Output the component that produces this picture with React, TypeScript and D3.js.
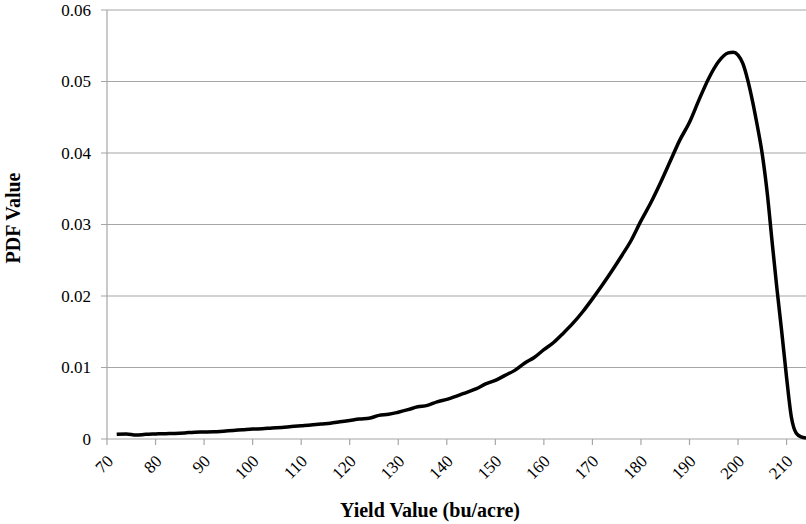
import React from "react";
import * as d3 from "d3";

const yieldValues = [
  72, 74, 76, 78, 80, 82, 84, 86, 88, 90, 92, 94, 96, 98, 100, 102, 104, 106, 108, 110,
  112, 114, 116, 118, 120, 122, 124, 126, 128, 130, 132, 134, 136, 138, 140, 142, 144, 146,
  148, 150, 152, 154, 156, 158, 160, 162, 164, 166, 168, 170, 172, 174, 176, 178, 180, 182,
  184, 186, 188, 190, 192, 194, 196, 198, 199, 200, 201, 202, 203, 204, 205, 206, 207, 208,
  209, 210, 211, 212, 213, 214,
];
const pdfValues = [
  0.00065, 0.0007, 0.00055, 0.00065, 0.0007, 0.00075, 0.00078, 0.00085, 0.00095, 0.00097,
  0.001, 0.0011, 0.0012, 0.0013, 0.0014, 0.00142, 0.00155, 0.0016, 0.00175, 0.00185,
  0.00195, 0.0021, 0.0022, 0.0024, 0.0026, 0.0028, 0.0029, 0.0033, 0.00345, 0.00375,
  0.0041, 0.0045, 0.0047, 0.0052, 0.00555, 0.006, 0.0065, 0.007, 0.0077, 0.0082,
  0.0089, 0.0096, 0.0106, 0.0114, 0.0125, 0.0135, 0.0148, 0.0162, 0.0178, 0.0196,
  0.0215, 0.0235, 0.0256, 0.0278, 0.0305, 0.033, 0.0358, 0.0388, 0.0418, 0.0443,
  0.0475, 0.0505, 0.0528, 0.054, 0.0541, 0.0537, 0.0525, 0.0502, 0.0472, 0.0437,
  0.0398, 0.0345, 0.0277, 0.0211, 0.015, 0.0086, 0.003, 0.0008, 0.0003, 0.00015,
];
const xTicks = [70, 80, 90, 100, 110, 120, 130, 140, 150, 160, 170, 180, 190, 200, 210];
const yTicks = [0, 0.01, 0.02, 0.03, 0.04, 0.05, 0.06];
const yTickLabels = ["0", "0.01", "0.02", "0.03", "0.04", "0.05", "0.06"];
const xTitle = "Yield Value (bu/acre)";
const yTitle = "PDF Value";

const W = 806;
const H = 524;
const L = 107;
const R = 806;
const T = 10;
const B = 439;

export default function App() {
  const x = d3.scaleLinear().domain([70, 214]).range([L, R]);
  const y = d3.scaleLinear().domain([0, 0.06]).range([B, T]);
  const data = yieldValues.map((v, i) => [v, pdfValues[i]] as [number, number]);
  const line = d3
    .line<[number, number]>()
    .x((d) => x(d[0]))
    .y((d) => y(d[1]))
    .curve(d3.curveMonotoneX);
  const font = '"Liberation Serif", "Times New Roman", Times, serif';
  const grid = "#a6a6a6";
  return (
    <svg
      width={W}
      height={H}
      style={{ position: "absolute", left: 0, top: 0, background: "#fff", fontFamily: font }}
    >
      {yTicks.map((t, i) => (
        <g key={"y" + i}>
          <line x1={L - 6} x2={R} y1={y(t)} y2={y(t)} stroke={grid} strokeWidth={1.2} />
          <text
            x={91}
            y={y(t)}
            dy="0.35em"
            textAnchor="end"
            style={{ fontFamily: font, fontSize: 17 }}
            fill="#000"
          >
            {yTickLabels[i]}
          </text>
        </g>
      ))}
      <line x1={L} x2={L} y1={T} y2={B} stroke={grid} strokeWidth={1.2} />
      {xTicks.map((t, i) => (
        <g key={"x" + i}>
          <line x1={x(t)} x2={x(t)} y1={B} y2={B + 6} stroke={grid} strokeWidth={1.2} />
          <text
            transform={`translate(${x(t) + 3},${B + 19}) rotate(-45)`}
            textAnchor="end"
            dy="0.35em"
            style={{ fontFamily: font, fontSize: 17 }}
            fill="#000"
          >
            {t}
          </text>
        </g>
      ))}
      <path d={line(data) ?? ""} fill="none" stroke="#000" strokeWidth={3.5} strokeLinejoin="round" />
      <text
        x={430}
        y={517}
        textAnchor="middle"
        style={{ fontFamily: font, fontSize: 20, fontWeight: "bold" }}
        fill="#000"
      >
        {xTitle}
      </text>
      <text
        transform={`translate(20,218) rotate(-90)`}
        textAnchor="middle"
        style={{ fontFamily: font, fontSize: 20, fontWeight: "bold" }}
        fill="#000"
      >
        {yTitle}
      </text>
    </svg>
  );
}
